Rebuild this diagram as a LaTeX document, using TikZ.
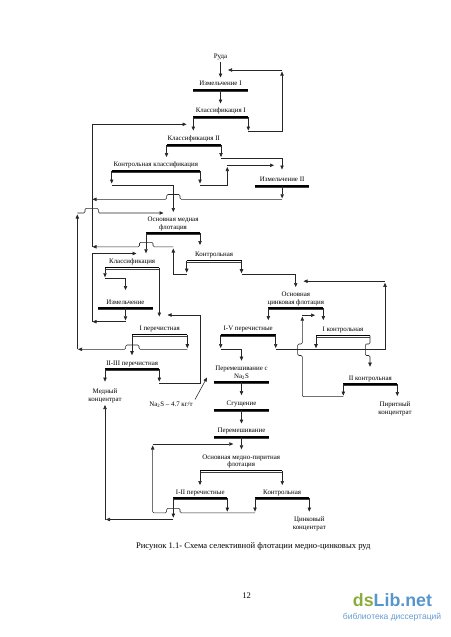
\documentclass[tikz,border=0pt]{standalone}
\usepackage{fontspec}
\setmainfont{Liberation Serif}
\newfontfamily\wmfont{Liberation Sans}
\usetikzlibrary{arrows.meta}
\definecolor{dsgreen}{RGB}{141,172,62}
\definecolor{dsblue}{RGB}{86,150,205}
\definecolor{dsblueb}{RGB}{100,155,210}
\newcommand\opbar[4]{%
  \coordinate (#1-l) at (#2,#4);
  \coordinate (#1-r) at (#3,#4);
  \coordinate (#1-c) at ({(#2+#3)/2},#4);
  \draw[barA] (#2,#4-0.2) -- (#3,#4-0.2);
  \draw[barB] (#2,#4+1.3) -- (#3,#4+1.3);
}
\begin{document}
\begin{tikzpicture}[x=1pt,y=-1pt,
  ln/.style={line width=0.55pt,black!85},
  ar/.style={ln,-{Triangle[length=4pt,width=3.4pt]}},
  barA/.style={line width=1.5pt,black},
  barB/.style={line width=0.6pt,black!75},
  lbl/.style={font=\fontsize{6.9}{8}\selectfont,inner sep=0pt,anchor=base},
  bumps/.style={rounded corners=1.2pt}]
\useasboundingbox (0,0) rectangle (450,637);

% operations (bars)
\opbar{izm1}{193.3}{247.7}{90}
\opbar{kl1}{193.3}{248.3}{117}
\opbar{kl2}{166.5}{221}{145}
\opbar{kk}{111.7}{200}{171}
\opbar{izm2}{255}{309.3}{186}
\opbar{omf}{146}{200}{233}
\opbar{kon}{186.7}{241.5}{260.7}
\opbar{kls}{105}{159.3}{267.5}
\opbar{izm3}{98.3}{152.7}{308.3}
\opbar{ozf}{268.3}{323.3}{308.3}
\opbar{pI}{132}{187.3}{334.7}
\opbar{pIV}{220.7}{275.7}{335}
\opbar{kI}{316}{370}{335.7}
\opbar{pII}{105}{159.3}{369.3}
\opbar{kII}{343.3}{397.3}{384.3}
\opbar{pna}{214}{269}{382.3}
\opbar{sg}{214}{269}{410}
\opbar{per}{214}{269}{437}
\opbar{ompf}{200}{282.3}{470.7}
\opbar{pIII}{173.3}{227.3}{498.3}
\opbar{kon2}{255}{309.3}{498.3}

% labels
\node[lbl] (ruda) at (220.5,58.5) {Руда};
\node[lbl] (t-izm1) at (220.5,85.7) {Измельчение I};
\node[lbl] (t-kl1) at (220.8,112.8) {Классификация I};
\node[lbl] (t-kl2) at (193.75,140.5) {Классификация II};
\node[lbl] (t-kk) at (155.85,166.8) {Контрольная классификация};
\node[lbl] (t-izm2) at (282.15,181.8) {Измельчение II};
\node[lbl] (t-omf1) at (173,221.5) {Основная медная};
\node[lbl] (t-omf2) at (173,229) {флотация};
\node[lbl] (t-kon) at (214.1,256.4) {Контрольная};
\node[lbl] (t-kls) at (132.15,263.3) {Классификация};
\node[lbl] (t-izm3) at (125.5,304.1) {Измельчение};
\node[lbl] (t-ozf1) at (295.8,296.8) {Основная};
\node[lbl] (t-ozf2) at (295.8,304.2) {цинковая флотация};
\node[lbl] (t-pI) at (159.65,330.5) {I перечистная};
\node[lbl] (t-pIV) at (248.2,330.8) {I-V перечистные};
\node[lbl] (t-kI) at (343,331.4) {I контрольная};
\node[lbl] (t-pII) at (132.15,365.1) {II-III перечистная};
\node[lbl] (t-kII) at (370.3,380) {II контрольная};
\node[lbl] (t-pna1) at (241.5,370.3) {Перемешивание с};
\node[lbl] (t-pna2) at (241.5,378.1) {Na\textsubscript{2}S};
\node[lbl] (t-sg) at (241.5,405.7) {Сгущение};
\node[lbl] (t-per) at (241.5,432.7) {Перемешивание};
\node[lbl] (t-ompf1) at (241.2,459) {Основная медно-пиритная};
\node[lbl] (t-ompf2) at (241.2,466.4) {флотация};
\node[lbl] (t-pIII) at (200.3,494) {I-II перечистные};
\node[lbl] (t-kon2) at (282.15,494) {Контрольная};
\node[lbl] (cu1) at (105,393) {Медный};
\node[lbl] (cu2) at (105,401) {концентрат};
\node[lbl] (py1) at (395,406.3) {Пиритный};
\node[lbl] (py2) at (395,414) {концентрат};
\node[lbl] (zn1) at (309.3,521.6) {Цинковый};
\node[lbl] (zn2) at (309.3,529.6) {концентрат};
\node[lbl] (na) at (171,406.5) {Na\textsubscript{2}S – 4.7 кг/т};

% connectors
\draw[ar] (220.5,61.5) -- (220.5,77.5);
\draw[ar] (izm1-c) -- ++(0,13.5);
\draw[ar] (kl1-l) -- ++(0,13.5);
\draw[ar] (kl1-r) -- ++(0,13.5);
\draw[ar] (248.3,131.3) -| (282,71.5);
\draw[ar] (282,70) -- (228,70);
\coordinate (vL) at (92,124.3);
\draw[ln] (92,247) -- (vL);
\draw[ar] (vL) -- (186.5,124.3);
\draw[ar] (kl2-l) -- ++(0,12);
\draw[ar] (kl2-r) -- ++(0,12);
\draw[ar] (221,158.3) -| (282,169.5);
\draw[ar] (kk-l) -- ++(0,12.5);
\draw[ar] (111.7,185.7) -| (173.3,212);
\draw[ar] (kk-r) -- ++(0,12.5);
\draw[ar] (200,185.7) -| (227.3,167);
\draw[ar] (227.3,165.3) -- (274,165.3);
\draw[ar] (izm2-c) -- ++(0,12.3);
\draw[ar,bumps] (282,199.3) -- (180,199.3) -- (180,194.5) -- (166.7,194.5) -- (166.7,199.3) -- (92.5,199.3);
\draw[ar] (omf-l) -- ++(0,20.3);
\draw[ar] (omf-r) -- ++(0,12);
\draw[ar] (kon-l) -- ++(0,12);
\draw[ar] (186.7,274) -| (173.3,248.5);
\draw[ar,bumps] (173.3,246.8) -- (153,246.8) -- (153,242.3) -- (139.5,242.3) -- (139.5,246.8) -- (92.5,246.8);
\draw[ar] (pI-r) -- ++(0,13.5);
\draw[ar,bumps] (187.3,349.3) -- (139,349.3) -- (139,345) -- (125.7,345) -- (125.7,349.3) -- (78,349.3);
\draw[ar] (77.3,349.3) -- (77.3,214.5);
\draw[ar,bumps] (77.3,213) -- (85,213) -- (85,208.3) -- (98.3,208.3) -- (98.3,213) -- (163.5,213);
\draw[ar] (kls-l) -- ++(0,9.8);
\draw[ar] (105,278) -| (125.5,290);
\draw[ar] (izm3-c) -- ++(0,12);
\draw[ar] (125.5,321.7) -- (92.5,321.7);
\draw[ar] (92,321.7) |- (136.5,253.5);
\draw[ar] (kls-r) -- ++(0,49);
\draw[ar] (pII-r) -- ++(0,12.3);
\draw[ar] (159.3,383.3) -| (200,315) -- (167.5,315);
\draw[ar] (pI-l) -- ++(0,20.5);
\draw[ar] (pII-l) -- ++(0,12.3);
\draw[ar] (pIII-l) -- ++(0,19.3);
\draw[ar] (173.3,519.5) -- (106,519.5);
\draw[ar] (105,519.5) -- (105,405);
\draw[ar] (kon-r) -- ++(0,12.5);
\draw[ar] (241.5,274) -| (295.7,287);
\draw[ar] (ozf-l) -- ++(0,11.8);
\draw[ar] (ozf-r) -- ++(0,11.8);
\draw[ar] (pIV-l) -- ++(0,13);
\draw[ar] (220.7,349.3) -| (241.5,360.7);
\draw[ar] (pIV-r) -- ++(0,13);
\draw[ar] (275.7,349.3) -| (385,282.8);
\draw[ar] (385,281.2) -- (303.5,281.2);
\draw[ar] (kI-l) -- ++(0,12.5);
\draw[ar,bumps] (kI-r) -- (370,344) -- (365.4,344) -- (365.4,355.5) -- (370,355.5) -- (370,366.7);
\draw[ar] (kII-l) -- ++(0,11.3);
\draw[ar,bumps] (343.3,396.7) -- (302.3,396.7) -- (302.3,355.5) -- (297.7,355.5) -- (297.7,344) -- (302.3,344) -- (302.3,316.7);
\draw[ar] (302.3,315.2) -- (315,315.2);
\draw[ar] (kII-r) -- ++(0,11.7);
\draw[ar] (pna-c) -- ++(0,12.8);
\draw[ar] (sg-c) -- ++(0,13.5);
\draw[ar] (per-c) -- ++(0,12.3);
\draw[ar] (195,399.5) -- (207,377.5);
\draw[ar] (ompf-l) -- ++(0,14.3);
\draw[ar] (ompf-r) -- ++(0,14.3);
\draw[ar] (pIII-r) -- ++(0,13.3);
\draw[ar] (kon2-l) -- ++(0,13.3);
\draw[ar] (kon2-r) -- ++(0,13.3);
\draw[ar,bumps] (255,512.8) -- (180,512.8) -- (180,508.3) -- (166.7,508.3) -- (166.7,512.8) -- (152.7,512.8) -- (152.7,445.5);
\draw[ar] (152.7,444) -- (233.3,444);

% caption, page number, watermark
\node[font=\fontsize{8.6}{10}\selectfont,inner sep=0pt,anchor=base] (cap) at (253.3,548) {Рисунок 1.1- Схема селективной флотации медно-цинковых руд};
\node[font=\fontsize{8.6}{10}\selectfont,inner sep=0pt,anchor=base] (pg) at (246.7,598) {12};
\node[anchor=base,inner sep=0pt,font=\wmfont\bfseries\fontsize{17.8}{20}\selectfont] (wm) at (392.5,606) {\textcolor{dsgreen}{ds}\textcolor{dsblue}{Lib.net}};
\node[anchor=base,inner sep=0pt,font=\wmfont\fontsize{8.5}{10}\selectfont,text=dsblueb] (wm2) at (392,619.5) {библиотека диссертаций};
\end{tikzpicture}
\end{document}
